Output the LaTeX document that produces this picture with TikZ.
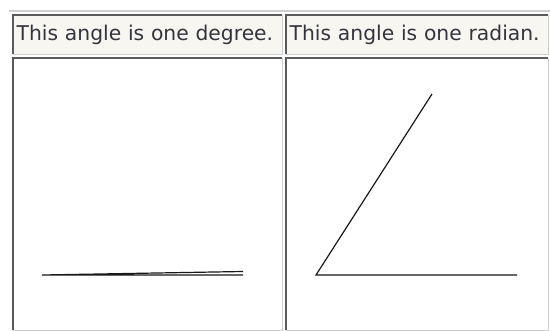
\documentclass[tikz,border=0pt]{standalone}
\usepackage{fontspec}
\setmainfont{DejaVu Sans}
\usetikzlibrary{positioning}

\definecolor{headbg}{HTML}{F8F6F1}
\definecolor{headtext}{HTML}{34343F}
\definecolor{darkedge}{HTML}{5A5A5A}
\definecolor{lightedge}{HTML}{CFCFCF}

\begin{document}
\begin{tikzpicture}[
        x=1pt, y=-1pt,
        cell/.style={
            anchor=north west,
            inner sep=0pt,
            minimum height=272pt
        },
        head/.style={
            anchor=north west,
            fill=headbg,
            inner xsep=3.5pt,
            inner ysep=0pt,
            minimum height=39pt,
            align=left,
            text=headtext,
            font=\fontsize{20.3}{23}\selectfont
        },
        inset/.style={draw=darkedge, line width=1.4pt},
        outset/.style={draw=lightedge, line width=1.4pt},
        stroke/.style={line width=1.2pt, black!90}
    ]

        \useasboundingbox (0,0) rectangle (550,331);

        % Filet supérieur
        \coordinate (ruleL) at (9,11);
        \coordinate (ruleR) at (550,11);
        \draw[lightedge, line width=1.6pt] (ruleL) -- (ruleR);

        % En-têtes
        \node[head, text width=262pt] (hdeg) at (13,15) {This angle is one degree.};
        \node[head, text width=255pt] (hrad) at (286,15) {This angle is one radian.};

        % Cellules du bas
        \node[cell, minimum width=269pt] (cdeg) at (13,58) {};
        \node[cell, minimum width=262pt] (crad) at (286,58) {};

        % Bordures en relief
        \foreach \c in {hdeg, hrad, cdeg, crad} {
            \draw[outset] (\c.north east) -- (\c.south east) -- (\c.south west);
            \draw[inset] (\c.south west) -- (\c.north west) -- (\c.north east);
        }

        % Un degré
        \coordinate (dO) at (42,275);
        \coordinate (dA) at (243,275);
        \coordinate (dB) at (243,271.5);
        \draw[stroke] (dA) -- (dO) -- (dB);

        % Un radian
        \coordinate (rO) at (316,275);
        \coordinate (rA) at (517,275);
        \coordinate (rB) at (432,94);
        \draw[stroke] (rA) -- (rO) -- (rB);

    \end{tikzpicture}
\end{document}
